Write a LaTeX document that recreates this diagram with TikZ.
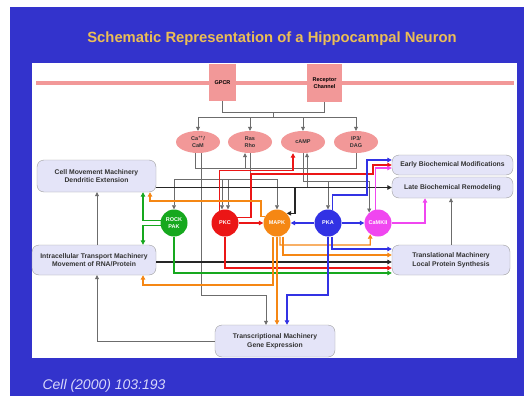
\documentclass[tikz,border=0pt]{standalone}
\usepackage{fontspec}
\setmainfont{Liberation Sans}
\usepackage{xcolor}
\usetikzlibrary{arrows.meta,shapes.geometric}
\definecolor{slide}{RGB}{51,51,204}
\definecolor{titlegold}{RGB}{235,190,85}
\definecolor{footc}{RGB}{215,215,250}
\definecolor{memb}{RGB}{242,152,152}
\definecolor{lav}{RGB}{228,228,248}
\definecolor{rockc}{RGB}{22,168,30}
\definecolor{pkcc}{RGB}{235,22,22}
\definecolor{mapkc}{RGB}{245,135,20}
\definecolor{pkac}{RGB}{50,50,228}
\definecolor{camkc}{RGB}{240,70,240}
\tikzset{
	recbox/.style={rectangle, fill=memb, inner sep=0pt, align=center,
			font=\fontsize{5.5}{6.5}\selectfont\bfseries},
	msg/.style={ellipse, fill=memb, minimum width=44pt, minimum height=22pt,
			inner sep=0pt, align=center, text=black!80,
			font=\fontsize{5.5}{6.5}\selectfont\bfseries},
	machine/.style={rectangle, rounded corners=7pt, draw=gray!75, fill=lav,
			align=center, inner sep=1pt, text=black!80,
			font=\fontsize{6.8}{8.5}\selectfont\bfseries},
	kinase/.style={circle, minimum size=27pt, inner sep=0pt, align=center,
			text=white, font=\fontsize{5.5}{6.5}\selectfont\bfseries},
	link/.style={draw=gray!85!black, line width=0.7pt},
	arr/.style={link, -{Triangle[length=4pt,width=4pt]}},
	bus/.style={draw=black!85, line width=1.2pt, -{Triangle[length=4.5pt,width=4.5pt]}},
	sig/.style={line width=1.2pt, -{Triangle[length=4.5pt,width=4.5pt]}}
}

\begin{document}
\begin{tikzpicture}[x=1pt,y=-1pt]
\useasboundingbox (0,0) rectangle (524,396);
% Slide
\fill[white] (0,0) rectangle (524,396);
\fill[slide] (10,7) rectangle (524,396);
\fill[white] (32,63) rectangle (517,358);
\node[anchor=base, text=titlegold, font=\fontsize{14.8}{17}\selectfont\bfseries] (title) at (272,43)
  {Schematic Representation of a Hippocampal Neuron};
\node[anchor=base west, text=footc, font=\fontsize{14}{16}\selectfont\itshape] (cite) at (39,389)
  {Cell (2000) 103:193};
% Membrane and receptors
\draw[memb, line width=3.2pt] (36,83) -- (514,83);
\node[recbox, minimum width=27pt, minimum height=37pt] (gpcr) at (222.5,82.5) {GPCR};
\node[recbox, minimum width=35pt, minimum height=38pt] (chan) at (324.5,83) {Receptor\\Channel};
% Second messengers
\node[msg] (ca) at (198,142) {Ca\textsuperscript{++}/\\CaM};
\node[msg] (ras) at (250,142) {Ras\\Rho};
\node[msg] (camp) at (303,142) {cAMP};
\node[msg] (ip3) at (356,142) {IP3/\\DAG};
% Machinery
\node[machine, minimum width=119pt, minimum height=32pt] (move) at (96.5,176)
  {Cell Movement Machinery\\Dendritic Extension};
\node[machine, minimum width=124pt, minimum height=30pt] (traffic) at (94,260)
  {Intracellular Transport Machinery\\Movement of RNA/Protein};
\node[machine, minimum width=121pt, minimum height=20pt] (early) at (452.5,165)
  {Early Biochemical Modifications};
\node[machine, minimum width=121pt, minimum height=21pt] (late) at (452.5,187.5)
  {Late Biochemical Remodeling};
\node[machine, minimum width=118pt, minimum height=30pt] (transl) at (451,260)
  {Translational Machinery\\Local Protein Synthesis};
\node[machine, minimum width=120pt, minimum height=32pt] (transc) at (275,341)
  {Transcriptional Machinery\\Gene Expression};
% Kinases
\node[kinase, fill=rockc] (rock) at (174,223) {ROCK\\PAK};
\node[kinase, fill=pkcc] (pkc) at (225,223) {PKC};
\node[kinase, fill=mapkc] (mapk) at (277,223) {MAPK};
\node[kinase, fill=pkac] (pka) at (328,223) {PKA};
\node[kinase, fill=camkc] (camk) at (378,223) {CaMKII};

% Receptors to messengers
\draw[link] (gpcr.south) -- ++(0,11) -| (chan.south);
\coordinate (hub) at (273.5,112);
\draw[link] (hub) -- ++(0,5) coordinate (bar);
\draw[link] (ca.north |- bar) -- (ip3.north |- bar);
\foreach \m in {ca,ras,camp,ip3}
  \draw[arr] (\m.north |- bar) -- (\m.north);

% Grey messenger lines
\draw[link] ([xshift=-3pt]ca.south) -- ++(0,15) -| (ip3.south);
\coordinate (tapras) at (245,168);
\draw[arr] (tapras) -- (tapras |- ras.south);
\draw[link] (ras.south) -- ++(0,26) coordinate (b2);
\draw[link] (rock.north |- b2) -- (mapk.north |- b2);
\foreach \k in {rock,mapk}
  \draw[arr] (\k.north |- b2) -- (\k.north);
\foreach \s in {-3,3}
  \draw[arr] ([xshift=\s pt]pkc.north |- b2) -- ([xshift=\s pt]pkc.north);
\draw[arr] ([xshift=3pt]ca.south) -- ++(0,142) -| ([xshift=-9pt]transc.north);
\draw[arr] (camp.south) -- ++(0,28) coordinate (b3) -| (camk.130);
\draw[arr] (pka.north |- b3) -- (pka.north);
\draw[arr] ([xshift=4pt]camp.south |- late.west) -- ([xshift=4pt]camp.south);

% Black lines
\draw[bus] (move.east |- late.west) -- (late.west);
\draw[bus] ([yshift=-2pt]traffic.east) -- ([yshift=-2pt]transl.west);
\coordinate (tapmapk) at (295,187.5);
\draw[bus] (tapmapk) |- (mapk.north east);

% Machinery feedback
\draw[arr] (transl.north) -- (transl.north |- late.south);
\draw[arr] (transc.west) -| ([xshift=3pt]traffic.south);
\draw[arr] ([xshift=3pt]traffic.north) -- ([xshift=3pt]traffic.north |- move.south);

% ROCK/PAK
\draw[sig, rockc] (rock.170) -| ([xshift=46.5pt]move.south);
\draw[sig, rockc] (rock.190) -| ([xshift=49pt]traffic.north);
\draw[sig, rockc] (rock.south) |- ([yshift=-13pt]transl.west);
% PKC
\draw[sig, pkcc] (pkc.115) -- ++(0,-40) -| ([xshift=-10pt]camp.south);
\draw[sig, pkcc] (pkc.25) -| (251,174) -- (373,174) |- (early.west);
\draw[sig, pkcc] (pkc.east) -- (mapk.west);
\draw[sig, pkcc] (pkc.south) |- ([yshift=-8pt]transl.west);
% MAPK
\draw[sig, mapkc] (mapk.150) -| (261,201) -| ([xshift=53.5pt]move.south);
\draw[sig, mapkc] ([xshift=-4pt]mapk.south) |- (143,285) -- ([xshift=49pt]traffic.south);
\draw[sig, mapkc] (mapk.south) -- (mapk.south |- transc.north);
\draw[sig, mapkc] ([xshift=3pt]mapk.south) |- (370.3,245) -- (camk.235);
\draw[sig, mapkc] ([xshift=6pt]mapk.south) |- ([yshift=5pt]transl.west);
% PKA
\draw[sig, pkac] (pka.west) -- (mapk.east);
\draw[sig, pkac] (pka.east) -- (camk.west);
\draw[sig, pkac] (pka.70) |- (367,195) |- ([yshift=5pt]early.west);
\draw[sig, pkac] ([xshift=4pt]pka.south) |- ([yshift=11pt]transl.west);
\draw[sig, pkac] (pka.south) |- (287,295) -- ([xshift=12pt]transc.north);
% CaMKII
\draw[sig, camkc] (camk.100) |- ([yshift=-3pt]early.west);
\draw[sig, camkc] (camk.east) -| ([xshift=-27.5pt]late.south);
\end{tikzpicture}
\end{document}
